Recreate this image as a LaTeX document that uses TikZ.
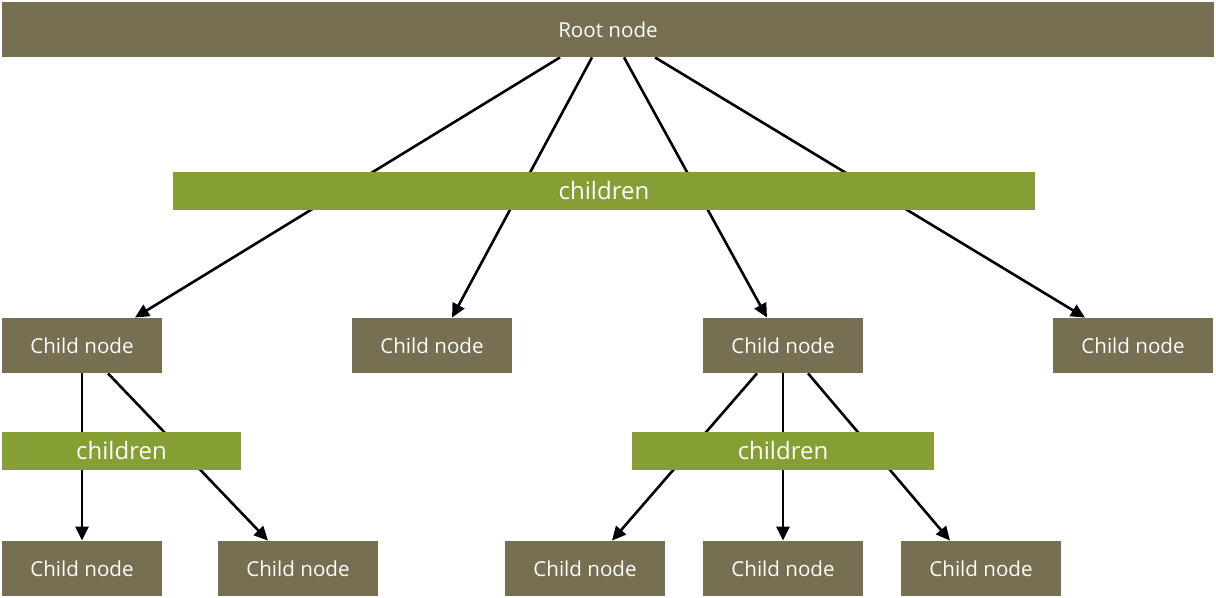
\documentclass[tikz,border=0pt]{standalone}
\usepackage{fontspec}
\setmainfont{Open Sans}
\usepackage{tikz}
\usetikzlibrary{arrows.meta}
\usetikzlibrary{backgrounds}

\definecolor{nodebrown}{RGB}{118,111,82}
\definecolor{bargreen}{RGB}{133,159,52}

\begin{document}
\begin{tikzpicture}[x=0.5pt,y=-0.5pt]
  \tikzset{box/.style = {rectangle,fill=nodebrown,text=white,minimum width=80pt,minimum height=27.5pt,inner sep=0pt,font=\fontsize{10.3}{12}\selectfont}}
  \tikzset{bar/.style = {rectangle,fill=bargreen,text=white,minimum height=19pt,inner sep=0pt,font=\fontsize{12}{14}\selectfont}}
  \tikzset{edge/.style = {-{Triangle[length=7pt,width=6.5pt]},line width=1.3pt}}

  \useasboundingbox (0,0) rectangle (1216,598);

	\node[box,minimum width=606pt] (root) at (608,29.5) {Root node};
	\node[bar,minimum width=431pt] (kids) at (604,191) {children};

	\node[box] (c1) at (82,345.5) {Child node};
	\node[box] (c2) at (432,345.5) {Child node};
	\node[box] (c3) at (783,345.5) {Child node};
	\node[box] (c4) at (1133,345.5) {Child node};

	\node[bar,minimum width=119.5pt] (kidsA) at (121.5,451) {children};
	\node[bar,minimum width=151pt] (kidsB) at (783,451) {children};

	\node[box] (d1) at (82,568.5) {Child node};
	\node[box] (d2) at (298,568.5) {Child node};
	\node[box] (d3) at (585,568.5) {Child node};
	\node[box] (d4) at (783,568.5) {Child node};
	\node[box] (d5) at (981,568.5) {Child node};

  \begin{pgfonlayer}{background}
       \foreach \from/\fx/\to/\tx in {root/-24/c1/26.5, root/-8/c2/10, root/8/c3/-8, root/23.5/c4/-24,
                                      c1/0/d1/0, c1/13/d2/-15,
                                      c3/-13/d3/13.5, c3/0/d4/0, c3/12.5/d5/-15.5}
    \draw[edge] ([xshift=\fx pt]\from.south) -- ([xshift=\tx pt]\to.north);
  \end{pgfonlayer}
\end{tikzpicture}
\end{document}
